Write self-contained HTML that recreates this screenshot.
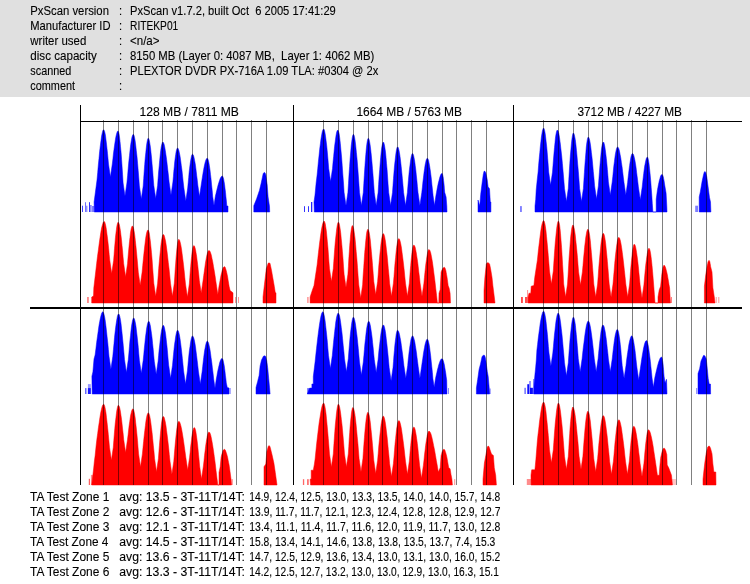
<!DOCTYPE html><html><head><meta charset="utf-8"><style>html,body{margin:0;padding:0;background:#fff;overflow:hidden}svg{display:block}text{font-family:"Liberation Sans",sans-serif;font-size:12px;fill:#000;stroke:#000;stroke-width:0.1}</style></head><body>
<svg width="750" height="584" viewBox="0 0 750 584">
<rect x="0" y="0" width="750" height="97" fill="#e0e0e0"/>
<text transform="translate(30.3,15) scale(0.9447,1)" xml:space="preserve">PxScan version</text>
<text transform="translate(119,15) scale(0.93,1)" xml:space="preserve">:</text>
<text transform="translate(130,15) scale(0.93,1)" xml:space="preserve">PxScan v1.7.2, built Oct  6 2005 17:41:29</text>
<text transform="translate(30.3,30) scale(0.9336,1)" xml:space="preserve">Manufacturer ID</text>
<text transform="translate(119,30) scale(0.93,1)" xml:space="preserve">:</text>
<text transform="translate(130.1,30) scale(0.85,1)" xml:space="preserve">RITEKP01</text>
<text transform="translate(30.3,45) scale(0.9559,1)" xml:space="preserve">writer used</text>
<text transform="translate(119,45) scale(0.93,1)" xml:space="preserve">:</text>
<text transform="translate(130,45) scale(0.9632,1)" xml:space="preserve">&lt;n/a&gt;</text>
<text transform="translate(30.3,60) scale(0.9684,1)" xml:space="preserve">disc capacity</text>
<text transform="translate(119,60) scale(0.93,1)" xml:space="preserve">:</text>
<text transform="translate(130,60) scale(0.9455,1)" xml:space="preserve">8150 MB (Layer 0: 4087 MB,  Layer 1: 4062 MB)</text>
<text transform="translate(30.3,75) scale(0.903,1)" xml:space="preserve">scanned</text>
<text transform="translate(119,75) scale(0.93,1)" xml:space="preserve">:</text>
<text transform="translate(130,75) scale(0.93,1)" xml:space="preserve">PLEXTOR DVDR PX-716A 1.09 TLA: #0304 @ 2x</text>
<text transform="translate(30.3,90) scale(0.9074,1)" xml:space="preserve">comment</text>
<text transform="translate(119,90) scale(0.93,1)" xml:space="preserve">:</text>
<g shape-rendering="geometricPrecision">
<path d="M94.3,212 94.1,202 97,180 97.7,172.5 98.3,165.2 99,158.3 99.6,151.8 100.3,145.8 101,140.5 101.6,136.1 102.3,132.7 102.9,130.5 103.6,129.8 104.1,130.2 104.6,131.5 105.1,133.6 105.6,136.5 106,140 106.5,144 107,148.5 107.5,153.3 108,158.5 108.5,164 110.4,177 112.3,164 112.9,158.9 113.4,154 114,149.4 114.6,145.1 115.2,141.1 115.7,137.7 116.3,134.9 116.9,132.8 117.4,131.4 118,131 118.5,131.7 119,133.7 119.5,136.9 120,141.3 120.5,146.6 121.1,152.7 121.6,159.5 122.1,166.9 122.6,174.8 123.1,183 125,196 126.9,183 127.6,175.7 128.2,168.6 128.8,161.8 129.5,155.5 130.1,149.7 130.7,144.6 131.4,140.3 132,137 132.7,135 133.3,134.3 133.9,135 134.5,137.2 135.1,140.6 135.7,145.1 136.3,150.5 137,156.6 137.6,163.3 138.2,170.5 138.8,178.1 139.4,186 141.3,199 143.2,186 143.7,178.4 144.2,171.2 144.7,164.4 145.2,158.2 145.8,152.5 146.3,147.6 146.8,143.6 147.3,140.7 147.8,138.8 148.3,138.2 148.8,138.8 149.4,140.7 149.9,143.7 150.5,147.7 151,152.6 151.6,158.2 152.1,164.3 152.7,171 153.2,178 153.8,185.4 155.7,198.4 157.6,185.4 158.1,178.5 158.6,172 159.2,165.9 159.7,160.2 160.2,155.1 160.7,150.6 161.2,147 161.8,144.3 162.3,142.6 162.8,142 163.4,142.6 164.1,144.2 164.7,146.9 165.3,150.4 165.9,154.6 166.6,159.4 167.2,164.6 167.8,170.1 168.5,175.9 169.1,182 171,195 172.9,182 173.4,176.5 173.8,171.3 174.3,166.4 174.7,161.9 175.2,158 175.7,154.5 176.1,151.8 176.6,149.7 177,148.4 177.5,148 178.1,148.6 178.8,150.3 179.4,152.9 180.1,156.4 180.7,160.7 181.3,165.4 182,170.6 182.6,176.2 183.2,182 183.9,188 185.8,201 187.7,188 188.2,182.6 188.7,177.4 189.1,172.6 189.6,168.2 190.1,164.2 190.6,160.8 191.1,158 191.5,155.9 192,154.6 192.5,154.2 193,154.6 193.6,155.8 194.1,157.8 194.6,160.4 195.2,163.5 195.7,167.2 196.2,171.2 196.7,175.5 197.3,180.2 197.8,185 199.5,196.5 201.2,185 201.8,180.9 202.4,177 203,173.2 203.6,169.7 204.2,166.6 204.8,163.8 205.4,161.4 206,159.7 206.6,158.6 207.2,158.2 207.8,158.7 208.3,160.2 208.9,162.7 209.4,165.9 210,169.9 210.5,174.4 211.1,179.5 211.6,184.9 212.2,190.6 212.7,196.6 214,205.4 215.3,196.6 216,193.5 216.7,190.6 217.4,187.8 218.1,185.1 218.8,182.7 219.5,180.5 220.2,178.6 220.9,177.2 221.6,176.3 222.3,176 222.8,176.4 223.2,177.5 223.7,179.3 224.1,181.7 224.6,184.7 225,188.3 225.5,192.2 225.9,196.5 226.4,201.1 226.8,206 228,206 228,212Z" fill="#0000ff" stroke="#0000ff" stroke-width="0.5"/><path d="M253.8,212 253.8,205.7 256.6,198.8 259.4,190.5 261.2,183.1 263.1,173.9 263.2,173.6 263.4,173.4 263.5,173.2 263.6,173 263.8,172.9 263.9,172.7 264,172.6 264.1,172.6 264.3,172.5 264.4,172.5 264.5,172.5 264.7,172.6 264.8,172.7 265,172.9 265.1,173.1 265.2,173.3 265.4,173.6 265.5,174 265.7,174.4 265.8,174.8 267.2,185 268.1,197 269.5,206.2 269.7,212Z" fill="#0000ff" stroke="#0000ff" stroke-width="0.5"/><rect x="82" y="205.7" width="1" height="6.3" fill="#0000ff" fill-opacity="0.75"/><rect x="85" y="202.2" width="1" height="9.8" fill="#0000ff" fill-opacity="0.55"/><rect x="86.3" y="205.7" width="1" height="6.3" fill="#0000ff" fill-opacity="0.6"/><rect x="89" y="202.2" width="1" height="9.8" fill="#0000ff" fill-opacity="0.8"/><rect x="90.3" y="205" width="1.2" height="7" fill="#0000ff" fill-opacity="0.65"/><rect x="92" y="206" width="2.1" height="6" fill="#0000ff" fill-opacity="0.5"/>
<path d="M91.7,303 91.7,297 93.5,296 93.8,288 95.9,270 96.7,263.1 97.5,256.3 98.4,249.8 99.2,243.6 100,237.8 100.8,232.5 101.6,228 102.5,224.5 103.3,222.2 104.1,221.4 104.7,221.9 105.2,223.5 105.8,226 106.4,229.4 106.9,233.4 107.5,238.1 108.1,243.2 108.7,248.7 109.2,254.5 109.8,260.5 111.7,273.5 113.6,260.5 114.1,254.3 114.5,248.4 115,242.9 115.4,237.9 115.9,233.4 116.4,229.6 116.8,226.4 117.3,224.1 117.7,222.7 118.2,222.2 118.7,222.8 119.3,224.4 119.8,227 120.4,230.6 120.9,234.8 121.5,239.8 122,245.2 122.6,251 123.1,257.2 123.7,263.7 125.6,276.7 127.5,263.7 128,257.7 128.5,251.9 129,246.6 129.5,241.6 130,237.2 130.4,233.4 130.9,230.2 131.4,227.9 131.9,226.5 132.4,226 133,226.6 133.6,228.5 134.2,231.5 134.8,235.5 135.3,240.3 135.9,245.8 136.5,251.8 137.1,258.3 137.7,265.1 138.3,272.2 140.2,285.2 142.1,272.2 142.7,265.7 143.3,259.5 143.9,253.6 144.5,248 145.1,243 145.6,238.6 146.2,235 146.8,232.2 147.4,230.5 148,229.9 148.6,230.6 149.2,232.8 149.7,236.2 150.3,240.8 150.9,246.4 151.5,252.7 152.1,259.6 152.6,267.1 153.2,275 153.8,283.2 155.7,296.2 157.6,283.2 158.2,275.6 158.7,268.4 159.3,261.6 159.9,255.2 160.5,249.4 161,244.3 161.6,240.2 162.2,237 162.7,235.1 163.3,234.4 164,235.1 164.7,237.3 165.5,240.7 166.2,245.1 166.9,250.3 167.6,256.1 168.3,262.4 169.1,269.1 169.8,276 170.5,283.2 172.4,296.2 174.3,283.2 174.8,276.1 175.2,269.3 175.7,263 176.1,257.2 176.6,252.1 177,247.7 177.5,244.1 177.9,241.5 178.4,239.8 178.8,239.3 179.5,240 180.1,241.9 180.8,244.9 181.5,248.9 182.1,253.6 182.8,258.9 183.5,264.7 184.2,270.9 184.8,277.3 185.5,284 187.4,297 189.3,284 189.8,277.7 190.2,271.8 190.7,266.3 191.1,261.2 191.6,256.7 192,252.9 192.5,249.7 192.9,247.4 193.4,246 193.8,245.5 194.4,246 194.9,247.3 195.5,249.6 196,252.5 196.6,256.1 197.1,260.2 197.7,264.7 198.2,269.6 198.8,274.8 199.3,280.2 201.2,293 203.1,280.2 203.7,275.6 204.3,271.3 204.9,267.1 205.4,263.2 206,259.7 206.6,256.5 207.2,254 207.8,252 208.4,250.8 209,250.4 209.8,251 210.5,252.6 211.3,255.1 212,258.4 212.8,262.2 213.5,266.5 214.3,271.1 215.1,276 215.8,281 216.6,286.2 217.8,294.6 219,286.2 219.6,283.1 220.1,280.2 220.6,277.4 221.1,274.8 221.7,272.5 222.2,270.5 222.7,268.9 223.2,267.6 223.8,266.9 224.3,266.6 224.8,266.9 225.3,267.6 225.7,268.8 226.2,270.4 226.7,272.4 227.2,274.7 227.7,277.3 228.1,280.1 228.6,283.1 229.1,286.3 230.1,290.5 233,292.8 233,303Z" fill="#ff0000" stroke="#ff0000" stroke-width="0.5"/><path d="M263,303 263,297 264.4,284.8 266.3,268.8 268.2,263.2 268.3,263.1 268.4,263.1 268.5,263 268.6,263 268.7,263 268.8,262.9 268.9,262.9 269,262.9 269.1,262.9 269.2,262.9 269.3,262.9 269.4,262.9 269.5,263 269.6,263 269.6,263.1 269.7,263.2 269.8,263.3 269.9,263.4 270,263.5 270.1,263.7 271.5,270.2 272.9,278.2 274.3,286.3 275.3,292.8 276,292.8 276,303Z" fill="#ff0000" stroke="#ff0000" stroke-width="0.5"/><rect x="87" y="297" width="1.9" height="6" fill="#ff0000" fill-opacity="0.45"/><rect x="235" y="297" width="1" height="6" fill="#ff0000" fill-opacity="0.4"/><rect x="238" y="297" width="1" height="6" fill="#ff0000" fill-opacity="0.4"/>
<path d="M314.3,212 314,202 315,195 316.1,183.2 317.1,175 317.8,168.1 318.4,161.4 319.1,155.1 319.7,149.1 320.4,143.6 321,138.8 321.7,134.7 322.3,131.6 323,129.7 323.6,129 324.1,129.5 324.6,131 325.1,133.5 325.6,136.8 326.1,140.8 326.7,145.5 327.2,150.7 327.7,156.3 328.2,162.2 328.7,168.5 330.6,181.5 332.5,168.5 333,162.5 333.6,156.7 334.1,151.3 334.6,146.2 335.2,141.7 335.7,137.8 336.2,134.5 336.7,132.1 337.3,130.6 337.8,130.1 338.4,131 339.1,133.6 339.7,137.7 340.3,143.2 340.9,149.7 341.6,157.1 342.2,165.2 342.8,173.9 343.5,183 344.1,192.4 346,205.4 347.9,192.4 348.5,183.3 349,174.7 349.6,166.5 350.1,158.9 350.7,152 351.2,146 351.8,141.1 352.3,137.4 352.9,135.1 353.4,134.3 354,135.1 354.6,137.5 355.2,141.3 355.8,146.4 356.4,152.5 357.1,159.4 357.7,166.9 358.3,175 358.9,183.5 359.5,192.4 361.4,205.4 363.3,192.4 363.8,183.8 364.3,175.6 364.8,167.9 365.3,160.7 365.8,154.4 366.3,148.8 366.8,144.3 367.3,141 367.8,138.9 368.3,138.2 368.9,139 369.5,141.2 370.1,144.7 370.7,149.4 371.3,155.1 371.9,161.5 372.5,168.6 373.1,176.1 373.7,184.1 374.3,192.4 376.2,205.4 378.1,192.4 378.6,184.4 379.1,176.9 379.7,169.7 380.2,163.1 380.7,157.2 381.2,152 381.7,147.8 382.3,144.6 382.8,142.7 383.3,142 383.8,142.7 384.4,144.7 384.9,147.8 385.5,152.1 386,157.3 386.5,163.3 387.1,169.8 387.6,177 388.1,184.5 388.7,192.4 390.6,205.4 392.5,192.4 393,185.2 393.5,178.3 394,171.9 394.5,165.9 395.1,160.5 395.6,155.9 396.1,152.1 396.6,149.2 397.1,147.5 397.6,146.9 398.2,147.5 398.8,149.4 399.4,152.4 400,156.3 400.6,161.1 401.2,166.5 401.8,172.4 402.4,178.8 403,185.4 403.6,192.4 405.5,205.4 407.4,192.4 407.9,186.2 408.4,180.3 408.9,174.8 409.4,169.7 410,165.1 410.5,161.1 411,157.8 411.5,155.4 412,153.9 412.5,153.4 413,153.9 413.6,155.5 414.1,157.9 414.7,161.3 415.2,165.3 415.8,169.9 416.3,175 416.9,180.5 417.4,186.3 418,192.4 419.9,205.4 421.8,192.4 422.4,187.1 422.9,182 423.5,177.1 424,172.7 424.6,168.6 425.1,165.1 425.7,162.2 426.2,160 426.8,158.7 427.3,158.2 427.9,158.7 428.5,160.2 429,162.7 429.6,165.9 430.2,169.8 430.8,174.3 431.4,179.2 431.9,184.4 432.5,190 433.1,195.8 434.5,205.4 435.9,195.8 436.5,192.4 437.1,189.1 437.7,186 438.3,183.1 439,180.4 439.6,178.1 440.2,176.1 440.8,174.6 441.4,173.7 442,173.4 442.3,173.6 442.5,174.2 442.8,175.3 443.1,176.7 443.4,178.5 443.6,180.6 443.9,183.1 444.2,185.9 444.4,189 444.7,192.3 446.1,197 446.8,206 447,212Z" fill="#0000ff" stroke="#0000ff" stroke-width="0.5"/><path d="M478,212 478,200 479.8,205.7 480.7,194.2 482.1,183.1 483.1,175.7 483.2,174.8 483.4,174.1 483.5,173.4 483.6,172.8 483.8,172.3 483.9,171.9 484,171.5 484.1,171.3 484.3,171.1 484.4,171.1 484.5,171.1 484.7,171.2 484.8,171.3 485,171.4 485.1,171.6 485.2,171.8 485.4,172 485.5,172.3 485.7,172.6 485.8,172.9 487.2,179.4 488.1,186.8 489.5,188.7 490.3,202 490.9,202 490.9,212Z" fill="#0000ff" stroke="#0000ff" stroke-width="0.5"/><rect x="304" y="206.2" width="1" height="5.8" fill="#0000ff" fill-opacity="0.8"/><rect x="308" y="206.2" width="1" height="5.8" fill="#0000ff" fill-opacity="0.8"/><rect x="311" y="202" width="1.3" height="10" fill="#0000ff" fill-opacity="0.85"/>
<path d="M310.1,303 310.1,297 312.3,290.3 314,285.5 317.1,265 317.8,258.5 318.5,252.2 319.2,246.2 319.9,240.6 320.6,235.3 321.3,230.6 322,226.7 322.7,223.7 323.4,221.8 324.1,221.1 324.6,221.7 325.2,223.6 325.7,226.6 326.3,230.6 326.8,235.5 327.3,241.1 327.9,247.3 328.4,254.1 328.9,261.2 329.5,268.6 331.4,281.6 333.3,268.6 333.8,261.2 334.3,254.2 334.8,247.6 335.3,241.6 335.9,236.1 336.4,231.4 336.9,227.5 337.4,224.6 337.9,222.8 338.4,222.2 339,222.9 339.5,225 340.1,228.4 340.7,232.8 341.2,238.2 341.8,244.4 342.4,251.2 343,258.5 343.5,266.2 344.1,274.3 346,287.3 347.9,274.3 348.4,266.4 348.8,258.9 349.3,251.8 349.7,245.4 350.2,239.7 350.6,234.8 351.1,230.8 351.5,227.9 352,226.1 352.4,225.5 353,226.4 353.7,228.8 354.3,232.8 355,238 355.6,244.3 356.2,251.4 356.9,259.1 357.5,267.3 358.1,275.9 358.8,284.9 360.7,297.9 362.6,284.9 363.1,276.1 363.7,267.8 364.2,259.9 364.7,252.6 365.3,246 365.8,240.3 366.3,235.6 366.8,232.1 367.4,229.9 367.9,229.2 368.5,229.9 369.1,232.1 369.7,235.5 370.3,240 370.8,245.4 371.4,251.7 372,258.5 372.6,265.8 373.2,273.6 373.8,281.6 375.7,294.6 377.6,281.6 378.2,274.2 378.7,267.1 379.3,260.3 379.9,254 380.5,248.4 381,243.4 381.6,239.3 382.2,236.2 382.7,234.3 383.3,233.6 383.9,234.3 384.6,236.4 385.2,239.7 385.8,244 386.4,249.2 387.1,255.1 387.7,261.6 388.3,268.5 389,275.7 389.6,283.2 391.5,296.2 393.4,283.2 394,276.2 394.5,269.5 395,263.2 395.6,257.4 396.1,252.1 396.6,247.5 397.2,243.7 397.7,240.9 398.3,239.1 398.8,238.5 399.5,239.2 400.1,241.1 400.8,244.1 401.5,248.1 402.1,252.8 402.8,258.1 403.5,263.9 404.2,270.1 404.8,276.5 405.5,283.2 407.4,296.2 409.3,283.2 409.8,277 410.2,271.1 410.7,265.6 411.1,260.6 411.6,256.1 412,252.3 412.5,249.2 412.9,246.9 413.4,245.5 413.8,245 414.4,245.5 415.1,247.1 415.7,249.7 416.3,253 416.9,257 417.6,261.6 418.2,266.5 418.8,271.9 419.5,277.4 420.1,283.2 422,296.2 423.9,283.2 424.4,277.8 424.9,272.7 425.4,267.9 425.9,263.5 426.5,259.5 427,256.1 427.5,253.2 428,251.1 428.5,249.8 429,249.4 429.8,250.3 430.7,252.8 431.5,256.8 432.4,261.8 433.2,267.6 434,274 434.9,280.8 435.7,288 436.6,295.4 437.4,303 438.8,303 439,293.3 440.2,289.5 441.1,272.1 441.4,271.3 441.7,270.5 442.1,269.8 442.4,269.2 442.7,268.6 443,268.2 443.3,267.8 443.7,267.5 444,267.4 444.3,267.3 444.7,267.5 445.1,268.2 445.5,269.3 445.9,270.7 446.2,272.5 446.6,274.7 447,277.1 447.4,279.8 447.8,282.7 448.2,285.8 449.1,288 450.1,293.3 450.5,303Z" fill="#ff0000" stroke="#ff0000" stroke-width="0.5"/><path d="M484,303 484,290.5 484.9,277.3 486.3,264.1 486.4,263.8 486.6,263.6 486.7,263.4 486.9,263.2 487,263.1 487.1,262.9 487.3,262.8 487.4,262.8 487.6,262.7 487.7,262.7 487.9,262.7 488.1,262.8 488.3,262.8 488.5,262.9 488.6,263.1 488.8,263.2 489,263.4 489.2,263.6 489.4,263.8 489.6,264.1 490.6,268.8 492,277.3 492.9,285.8 494.3,297 495,303Z" fill="#ff0000" stroke="#ff0000" stroke-width="0.5"/><rect x="307.2" y="297" width="1.4" height="6" fill="#ff0000" fill-opacity="0.45"/>
<path d="M535,212 535,206 535.7,199.3 536.2,190 537.2,180 538.1,172 538.6,165.2 539.2,158.6 539.8,152.4 540.3,146.7 540.9,141.5 541.4,137 542,133.2 542.5,130.4 543.1,128.7 543.6,128.1 544.1,128.7 544.6,130.4 545.1,133.1 545.6,136.8 546.1,141.3 546.7,146.5 547.2,152.2 547.7,158.5 548.2,165.1 548.7,172.1 550.6,185.1 552.5,172.1 553,165.4 553.5,159 554,153 554.5,147.5 555,142.6 555.4,138.3 555.9,134.8 556.4,132.2 556.9,130.6 557.4,130.1 558.1,131 558.8,133.5 559.5,137.6 560.2,142.8 560.9,149 561.7,156 562.4,163.5 563.1,171.5 563.8,179.8 564.5,188.4 566.4,201.4 568.3,188.4 568.8,179.6 569.3,171.3 569.8,163.4 570.3,156.1 570.9,149.6 571.4,143.9 571.9,139.3 572.4,135.9 572.9,133.7 573.4,133 574,133.8 574.6,136.1 575.3,139.7 575.9,144.6 576.5,150.4 577.1,157 577.7,164.2 578.4,171.9 579,180 579.6,188.4 581.5,201.4 583.4,188.4 583.9,180.2 584.4,172.4 584.9,165.1 585.4,158.4 585.9,152.3 586.3,147.1 586.8,142.9 587.3,139.7 587.8,137.8 588.3,137.1 588.9,137.8 589.6,139.8 590.2,143.1 590.8,147.3 591.4,152.5 592.1,158.3 592.7,164.6 593.3,171.4 594,178.5 594.6,185.9 596.5,198.9 598.4,185.9 598.9,178.9 599.4,172.2 599.9,166 600.4,160.2 600.9,155 601.3,150.6 601.8,146.9 602.3,144.2 602.8,142.6 603.3,142 603.8,142.5 604.3,144.1 604.8,146.5 605.3,149.9 605.8,154 606.4,158.7 606.9,163.9 607.4,169.5 607.9,175.6 608.4,181.9 610.3,194.9 612.2,181.9 612.8,176.4 613.3,171.2 613.8,166.2 614.4,161.7 614.9,157.5 615.4,153.9 616,151 616.5,148.7 617.1,147.4 617.6,146.9 618.2,147.4 618.9,148.9 619.5,151.3 620.1,154.4 620.8,158.1 621.4,162.4 622.1,167 622.7,171.9 623.3,177.1 624,182.5 625.8,194.9 627.6,182.5 628.1,177.8 628.6,173.4 629.1,169.2 629.6,165.4 630.1,162 630.6,159.1 631,156.7 631.5,154.9 632,153.8 632.5,153.4 633.1,153.9 633.7,155.2 634.3,157.4 634.9,160.3 635.5,163.8 636.1,167.8 636.6,172.2 637.2,176.8 637.8,181.8 638.4,186.9 640.3,199.7 642.2,186.9 642.7,182.2 643.2,177.7 643.7,173.5 644.2,169.6 644.7,166 645.3,163 645.8,160.5 646.3,158.6 646.8,157.5 647.3,157.1 647.9,157.8 648.4,160 649,163.5 649.5,168.2 650.1,173.9 650.7,180.4 651.2,187.6 651.8,195.3 652.3,203.5 652.9,212 656.2,212 656.2,199.3 657.5,189.5 658,187.1 658.4,184.8 658.9,182.6 659.3,180.6 659.8,178.9 660.2,177.4 660.6,176.1 661.1,175.2 661.5,174.7 662,174.5 662.3,174.6 662.5,175 662.8,175.5 663.1,176.3 663.4,177.3 663.6,178.5 663.9,179.9 664.2,181.4 664.4,183.1 664.7,185 666.1,193.3 666.8,206.2 667,212Z" fill="#0000ff" stroke="#0000ff" stroke-width="0.5"/><path d="M699.2,212 699.2,197 700.3,191.9 702.1,181.3 703.5,174.8 703.6,174.2 703.8,173.7 703.9,173.2 704.1,172.8 704.2,172.4 704.3,172.1 704.5,171.9 704.6,171.7 704.8,171.6 704.9,171.6 705.1,171.7 705.3,171.8 705.5,172.1 705.7,172.5 705.8,173 706,173.6 706.2,174.4 706.4,175.2 706.6,176.1 706.8,177.1 708.1,186.8 709.5,197.4 710.5,202 710.9,212Z" fill="#0000ff" stroke="#0000ff" stroke-width="0.5"/><rect x="520" y="206.1" width="1.9" height="5.9" fill="#0000ff" fill-opacity="0.5"/><rect x="695.2" y="205.7" width="2.8" height="6.3" fill="#0000ff" fill-opacity="0.5"/>
<path d="M528.1,303 528.1,297 529,293.2 530.8,293.2 531.2,286.2 533.9,285.4 534.7,277.7 537.4,260 538,254 538.6,248.3 539.3,242.8 539.9,237.7 540.5,233 541.1,228.8 541.7,225.4 542.4,222.8 543,221.2 543.6,220.6 544.2,221.3 544.8,223.3 545.4,226.6 546,231 546.5,236.2 547.1,242.2 547.7,248.8 548.3,255.8 548.9,263.3 549.5,271 551.4,284 553.3,271 553.8,263.1 554.3,255.6 554.8,248.5 555.3,241.9 555.9,236 556.4,231 556.9,226.8 557.4,223.7 557.9,221.8 558.4,221.1 558.9,221.9 559.5,224.4 560,228.3 560.5,233.6 561,240.1 561.6,247.5 562.1,255.8 562.6,264.7 563.2,274.1 563.7,284 565.6,297 567.5,284 568.1,274.8 568.6,265.9 569.1,257.6 569.7,249.9 570.2,242.9 570.7,236.8 571.3,231.8 571.8,228.1 572.4,225.8 572.9,225 573.5,225.6 574,227.5 574.6,230.5 575.2,234.6 575.7,239.4 576.3,245 576.9,251.1 577.5,257.7 578,264.6 578.6,271.9 580.5,284.9 582.4,271.9 583,265.2 583.5,258.9 584.1,252.9 584.6,247.3 585.2,242.2 585.7,237.8 586.3,234.2 586.8,231.5 587.4,229.8 587.9,229.2 588.5,230 589.1,232.2 589.7,235.7 590.3,240.5 590.8,246.2 591.4,252.7 592,259.8 592.6,267.5 593.2,275.6 593.8,284 595.7,297 597.6,284 598.2,276.2 598.7,268.6 599.3,261.5 599.9,254.9 600.5,248.9 601,243.6 601.6,239.3 602.2,236 602.7,234 603.3,233.3 603.9,234 604.5,236.1 605.1,239.4 605.7,243.7 606.2,249 606.8,255 607.4,261.6 608,268.7 608.6,276.2 609.2,284 611.1,297 613,284 613.6,276.8 614.2,269.9 614.7,263.4 615.3,257.3 615.9,251.7 616.5,246.9 617.1,242.8 617.6,239.8 618.2,237.9 618.8,237.3 619.5,238 620.2,240 620.9,243.2 621.6,247.4 622.3,252.4 623,258 623.7,264 624.4,270.4 625.1,277.1 625.8,284 627.7,297 629.6,284 630.1,277.6 630.5,271.5 631,265.8 631.5,260.6 632,255.9 632.4,251.9 632.9,248.6 633.4,246.2 633.8,244.7 634.3,244.2 634.9,244.8 635.5,246.4 636,249 636.6,252.5 637.2,256.8 637.8,261.6 638.4,266.9 638.9,272.6 639.5,278.6 640.1,284.9 642,297.9 643.9,284.9 644.4,279.1 644.9,273.5 645.4,268.3 645.9,263.5 646.5,259.2 647,255.4 647.5,252.4 648,250.1 648.5,248.7 649,248.2 649.6,249 650.2,251.2 650.8,254.8 651.4,259.5 652,265.3 652.6,271.8 653.2,278.9 653.8,286.6 654.4,294.6 655,303 658,303 658,297 659.2,290 660.6,286.3 661.6,276.4 661.8,274.4 662.1,272.6 662.3,271 662.6,269.5 662.8,268.2 663,267.2 663.3,266.4 663.5,265.8 663.8,265.4 664,265.3 664.6,265.6 665.1,266.5 665.7,268 666.2,269.9 666.8,272.3 667.4,275 667.9,278 668.5,281.2 669,284.6 669.6,288.1 670.1,297 670.5,303Z" fill="#ff0000" stroke="#ff0000" stroke-width="0.5"/><path d="M704.4,303 704.4,286.3 705.8,274.5 707.3,265.1 707.5,264.2 707.7,263.5 707.8,262.8 708,262.1 708.2,261.6 708.4,261.2 708.6,260.8 708.7,260.6 708.9,260.4 709.1,260.4 709.2,260.5 709.4,260.7 709.6,261 709.7,261.4 709.9,262 710,262.6 710.1,263.4 710.3,264.3 710.5,265.4 710.6,266.5 712,272.1 712.9,287.7 714.3,297 715,303Z" fill="#ff0000" stroke="#ff0000" stroke-width="0.5"/><rect x="521" y="297" width="1.9" height="6" fill="#ff0000" fill-opacity="0.7"/><rect x="525" y="297" width="2.3" height="6" fill="#ff0000" fill-opacity="0.7"/><rect x="527.2" y="290" width="0.9" height="13" fill="#ff0000" fill-opacity="0.5"/><rect x="671" y="297" width="1" height="6" fill="#ff0000" fill-opacity="0.5"/><rect x="715.7" y="297" width="1" height="6" fill="#ff0000" fill-opacity="0.4"/><rect x="718.3" y="297" width="1" height="6" fill="#ff0000" fill-opacity="0.4"/>
<path d="M92.2,394 91.9,376.2 92.9,371.9 94,359 95.1,355 95.9,348.8 96.6,342.7 97.4,336.9 98.2,331.3 98.9,326.1 99.7,321.5 100.5,317.5 101.3,314.4 102,312.5 102.8,311.8 103.4,312.4 104,314.3 104.7,317.2 105.3,321.1 105.9,325.8 106.5,331.1 107.1,336.8 107.8,343 108.4,349.5 109,356.3 110.9,369.3 112.8,356.3 113.4,349.8 114,343.5 114.5,337.6 115.1,332.1 115.7,327.1 116.3,322.7 116.9,319 117.4,316.3 118,314.6 118.6,314 119.2,314.6 119.8,316.5 120.4,319.4 121,323.4 121.5,328.1 122.1,333.5 122.7,339.4 123.3,345.8 123.9,352.5 124.5,359.5 126.4,372.5 128.3,359.5 128.9,353 129.4,346.8 129.9,340.9 130.5,335.5 131,330.6 131.5,326.3 132.1,322.8 132.6,320.2 133.2,318.6 133.7,318 134.3,318.6 134.8,320.3 135.4,323 136,326.6 136.5,331 137.1,336 137.7,341.5 138.3,347.5 138.8,353.8 139.4,360.3 141.3,373.3 143.2,360.3 143.8,354.2 144.3,348.4 144.9,342.9 145.4,337.8 146,333.2 146.5,329.2 147.1,325.8 147.6,323.4 148.2,321.8 148.7,321.3 149.3,321.8 149.8,323.4 150.4,326 150.9,329.4 151.5,333.5 152.1,338.2 152.6,343.5 153.2,349.1 153.7,355 154.3,361.2 156.2,374.2 158.1,361.2 158.6,355.5 159.1,350.1 159.7,345 160.2,340.3 160.7,336.1 161.2,332.4 161.7,329.4 162.3,327.2 162.8,325.8 163.3,325.3 163.8,325.8 164.4,327.4 164.9,329.9 165.5,333.3 166,337.4 166.5,342.1 167.1,347.3 167.6,353 168.1,359 168.7,365.2 170.6,378.2 172.5,365.2 173,359.7 173.5,354.4 174,349.4 174.5,344.8 175.1,340.7 175.6,337.1 176.1,334.2 176.6,332 177.1,330.7 177.6,330.2 178.2,330.8 178.8,332.4 179.4,335.1 180,338.6 180.6,342.9 181.2,347.7 181.8,353 182.4,358.7 183,364.7 183.6,370.9 185.5,383.9 187.4,370.9 187.9,365.4 188.4,360.1 188.9,355.1 189.4,350.5 190,346.4 190.5,342.8 191,339.9 191.5,337.7 192,336.4 192.5,335.9 193.1,336.4 193.7,337.8 194.3,340.1 194.9,343.1 195.5,346.8 196,351 196.6,355.6 197.2,360.5 197.8,365.7 198.4,371.1 200.3,383.9 202.2,371.1 202.7,366.3 203.2,361.8 203.7,357.5 204.2,353.6 204.7,350.1 205.3,347 205.8,344.5 206.3,342.6 206.8,341.5 207.3,341.1 207.9,341.6 208.6,343.2 209.2,345.8 209.9,349.1 210.5,353.1 211.1,357.7 211.8,362.6 212.4,367.9 213.1,373.4 213.7,379.1 215,388 216.3,379.1 216.9,375.9 217.4,372.8 218,369.9 218.6,367.2 219.2,364.8 219.7,362.6 220.3,360.8 220.9,359.5 221.4,358.7 222,358.4 222.4,358.7 222.9,359.6 223.3,361.1 223.7,363.1 224.2,365.5 224.6,368.4 225,371.6 225.4,375.2 225.9,379 226.3,383 227.3,387.5 229,388 229,394Z" fill="#0000ff" stroke="#0000ff" stroke-width="0.5"/><path d="M256,394 256,387.5 257.7,381.2 259.1,375.5 260.1,365.9 261.5,360.1 263.4,356.3 263.5,356.2 263.7,356.1 263.8,356 264,356 264.1,355.9 264.3,355.9 264.4,355.8 264.6,355.8 264.8,355.8 264.9,355.8 265.1,355.9 265.3,356 265.5,356.3 265.7,356.7 265.9,357.2 266,357.8 266.2,358.5 266.4,359.3 266.6,360.1 266.8,361.1 267.7,367.8 268.7,378.4 269.6,387.9 270.1,394Z" fill="#0000ff" stroke="#0000ff" stroke-width="0.5"/><rect x="85" y="388.1" width="1.5" height="5.9" fill="#0000ff" fill-opacity="0.6"/><rect x="87.9" y="388.1" width="2.9" height="5.9" fill="#0000ff" fill-opacity="0.85"/><rect x="87.9" y="384.1" width="2.9" height="9.9" fill="#0000ff" fill-opacity="0.4"/><rect x="229.4" y="388" width="1.4" height="6" fill="#0000ff" fill-opacity="0.4"/>
<path d="M91.7,485 92.9,475 93.7,468 94.4,461 95.1,455.8 96.2,445 96.9,439.1 97.7,433.3 98.4,427.7 99.2,422.5 99.9,417.6 100.6,413.2 101.4,409.5 102.1,406.7 102.9,404.8 103.6,404.2 104.2,404.8 104.8,406.5 105.4,409.4 106,413.1 106.5,417.6 107.1,422.7 107.7,428.3 108.3,434.3 108.9,440.7 109.5,447.3 111.4,460.3 113.3,447.3 113.8,440.6 114.3,434.3 114.8,428.3 115.3,422.8 115.9,417.9 116.4,413.6 116.9,410.1 117.4,407.5 117.9,405.8 118.4,405.3 118.9,405.8 119.5,407.1 120,409.2 120.5,412.1 121,415.6 121.6,419.7 122.1,424.2 122.6,429 123.2,434.1 123.7,439.5 125.6,452.5 127.5,439.5 128.1,434.7 128.6,430.1 129.1,425.8 129.7,421.7 130.2,418.1 130.7,415 131.3,412.4 131.8,410.4 132.4,409.2 132.9,408.8 133.5,409.4 134,411.2 134.6,414.1 135.2,418 135.7,422.7 136.3,428 136.9,433.9 137.5,440.2 138,446.9 138.6,453.9 140.5,466.9 142.4,453.9 143,447.6 143.6,441.5 144.2,435.8 144.8,430.4 145.4,425.5 145.9,421.3 146.5,417.7 147.1,415 147.7,413.4 148.3,412.8 148.9,413.5 149.6,415.4 150.2,418.4 150.8,422.4 151.4,427.3 152.1,432.7 152.7,438.7 153.3,445.1 154,451.8 154.6,458.7 156.5,471.7 158.4,458.7 158.9,451.9 159.4,445.5 159.9,439.5 160.4,433.9 160.9,429 161.3,424.7 161.8,421.2 162.3,418.6 162.8,416.9 163.3,416.4 164,417.1 164.6,419 165.3,422 166,426 166.6,430.7 167.3,436.1 168,441.9 168.7,448.1 169.3,454.5 170,461.2 171.9,474.2 173.8,461.2 174.3,454.8 174.8,448.8 175.3,443.1 175.8,437.9 176.3,433.2 176.8,429.1 177.3,425.8 177.8,423.3 178.3,421.8 178.8,421.3 179.5,421.8 180.2,423.4 180.9,425.9 181.6,429.1 182.3,433 183,437.3 183.7,441.9 184.4,446.9 185.1,452 185.8,457.3 187.7,470.1 189.6,457.3 190.1,452.5 190.5,448 191,443.7 191.5,439.8 191.9,436.3 192.4,433.3 192.9,430.8 193.4,429 193.8,427.9 194.3,427.5 194.8,428 195.4,429.5 195.9,431.9 196.4,435.2 196.9,439.1 197.5,443.7 198,448.7 198.5,454.2 199.1,459.9 199.6,466 201.5,479 203.4,466 204,460.7 204.5,455.6 205.1,450.8 205.6,446.4 206.2,442.3 206.8,438.8 207.3,435.9 207.9,433.7 208.4,432.4 209,431.9 209.9,432.8 210.8,435.4 211.6,439.3 212.5,444.3 213.4,450.1 214.3,456.5 215.2,463.2 216,470.3 216.9,477.6 217.8,485 219,485 219,472.5 220.2,466.8 221.1,457.4 221.4,456 221.7,454.7 222.1,453.5 222.4,452.5 222.7,451.5 223,450.7 223.3,450.1 223.7,449.7 224,449.4 224.3,449.3 224.8,449.5 225.3,450.1 225.7,451.1 226.2,452.4 226.7,453.9 227.2,455.8 227.7,457.8 228.1,460.1 228.6,462.5 229.1,465 230.1,472 231,479 231.5,485Z" fill="#ff0000" stroke="#ff0000" stroke-width="0.5"/><path d="M264,485 264,466.8 265.8,464 266.8,451.8 268.2,446.6 268.3,446.4 268.4,446.3 268.5,446.1 268.6,446 268.6,445.9 268.7,445.8 268.8,445.8 268.9,445.7 269,445.7 269.1,445.7 269.2,445.7 269.4,445.8 269.6,446 269.7,446.2 269.9,446.5 270,446.9 270.2,447.3 270.3,447.8 270.5,448.3 270.6,448.9 272,454.6 273.9,463.1 275.3,472.5 276.2,479.1 277,485Z" fill="#ff0000" stroke="#ff0000" stroke-width="0.5"/><rect x="88.8" y="478.8" width="1.1" height="6.2" fill="#ff0000" fill-opacity="0.7"/><rect x="90.9" y="474.9" width="2" height="10.1" fill="#ff0000" fill-opacity="0.45"/><rect x="231.5" y="479.1" width="1.4" height="5.9" fill="#ff0000" fill-opacity="0.4"/>
<path d="M307.3,394 309.7,388.1 311.9,388.1 311.9,384 313.3,384 313.3,376.6 315.1,361.8 315.8,355 316.5,348.6 317.2,342.4 317.9,336.5 318.6,330.9 319.3,325.8 320,321.2 320.7,317.3 321.4,314.3 322.1,312.4 322.8,311.8 323.4,312.4 323.9,314.1 324.5,317 325.1,320.7 325.6,325.2 326.2,330.4 326.8,336.1 327.4,342.3 327.9,348.7 328.5,355.5 330.4,368.5 332.3,355.5 332.9,349 333.5,342.7 334.1,336.8 334.7,331.3 335.3,326.2 335.8,321.8 336.4,318.2 337,315.4 337.6,313.7 338.2,313.1 338.8,313.7 339.5,315.6 340.1,318.7 340.7,322.7 341.3,327.5 342,332.9 342.6,338.8 343.2,345.2 343.9,351.8 344.5,358.7 346.4,371.7 348.3,358.7 348.8,352.1 349.3,345.9 349.8,340 350.3,334.5 350.9,329.6 351.4,325.4 351.9,321.9 352.4,319.3 352.9,317.7 353.4,317.2 354,317.8 354.6,319.7 355.2,322.6 355.8,326.5 356.4,331.2 357.1,336.5 357.7,342.4 358.3,348.6 358.9,355.2 359.5,362 361.4,375 363.3,362 363.9,355.6 364.4,349.5 364.9,343.8 365.5,338.5 366,333.7 366.5,329.5 367.1,326 367.6,323.4 368.2,321.8 368.7,321.3 369.3,321.8 369.8,323.3 370.4,325.8 370.9,329 371.5,333 372.1,337.5 372.6,342.5 373.2,347.9 373.7,353.6 374.3,359.5 376.2,372.5 378.1,359.5 378.6,354 379.1,348.8 379.7,343.9 380.2,339.4 380.7,335.3 381.2,331.8 381.7,328.9 382.3,326.7 382.8,325.4 383.3,324.9 383.9,325.5 384.5,327.2 385.1,330 385.7,333.7 386.2,338.2 386.8,343.2 387.4,348.8 388,354.8 388.6,361.1 389.2,367.7 391.1,380.7 393,367.7 393.5,361.6 393.9,355.9 394.4,350.5 394.8,345.6 395.3,341.2 395.8,337.4 396.2,334.3 396.7,332.1 397.1,330.7 397.6,330.2 398.2,330.7 398.9,332.2 399.5,334.5 400.1,337.6 400.8,341.3 401.4,345.5 402,350.1 402.7,355 403.3,360.2 403.9,365.5 405.8,378.2 407.7,365.5 408.1,360.8 408.6,356.3 409.1,352 409.6,348.1 410.1,344.7 410.6,341.7 411,339.2 411.5,337.4 412,336.3 412.5,335.9 413.1,336.3 413.6,337.5 414.2,339.5 414.8,342.1 415.3,345.3 415.9,348.9 416.5,352.9 417,357.2 417.6,361.8 418.2,366.5 419.9,378.2 421.6,366.5 422.2,362.3 422.8,358.2 423.3,354.4 423.9,350.8 424.5,347.6 425,344.8 425.6,342.4 426.2,340.7 426.7,339.6 427.3,339.2 427.9,339.7 428.4,341.3 429,343.8 429.6,347.2 430.1,351.3 430.7,356 431.2,361.1 431.8,366.7 432.4,372.5 432.9,378.6 434.2,387.2 435.5,378.6 436.1,375.7 436.8,372.8 437.4,370 438.1,367.4 438.7,365 439.4,362.9 440,361.2 440.7,359.8 441.3,359 442,358.7 442.5,359 442.9,359.8 443.4,361.1 443.9,362.9 444.4,365.1 444.8,367.6 445.3,370.4 445.8,373.5 446.2,376.8 446.7,380.3 447,394Z" fill="#0000ff" stroke="#0000ff" stroke-width="0.5"/><path d="M476.4,394 476.4,387.9 477.7,379.3 479.1,369.2 480.5,364 482,356.8 482.2,356.5 482.4,356.2 482.6,356 482.8,355.7 483.1,355.5 483.3,355.4 483.5,355.3 483.7,355.2 483.9,355.1 484.1,355.1 484.3,355.2 484.4,355.3 484.6,355.6 484.8,355.9 485,356.4 485.1,356.9 485.3,357.6 485.5,358.3 485.6,359.2 485.8,360.1 487.3,371.6 488.2,376.4 489.2,387.9 489.6,394Z" fill="#0000ff" stroke="#0000ff" stroke-width="0.5"/><rect x="307.2" y="388.1" width="2.5" height="5.9" fill="#0000ff" fill-opacity="0.6"/><rect x="448" y="388" width="0.9" height="6" fill="#0000ff" fill-opacity="0.5"/><rect x="489.6" y="388.5" width="1.2" height="5.5" fill="#0000ff" fill-opacity="0.4"/>
<path d="M310.6,485 310.1,479.2 311.2,479 311.2,470.2 313.3,470.2 314.4,464 315.1,459 316.5,445 317.2,438.8 317.9,432.9 318.6,427.1 319.3,421.7 320.1,416.7 320.8,412.2 321.5,408.5 322.2,405.6 322.9,403.7 323.6,403.1 324.2,403.8 324.8,405.9 325.4,409.2 326,413.6 326.5,418.8 327.1,424.9 327.7,431.5 328.3,438.6 328.9,446.1 329.5,453.9 331.4,466.9 333.3,453.9 333.8,446 334.3,438.5 334.8,431.5 335.3,424.9 335.9,419.1 336.4,414 336.9,409.9 337.4,406.8 337.9,404.8 338.4,404.2 339,404.9 339.6,406.9 340.2,410.2 340.8,414.5 341.4,419.7 342.1,425.6 342.7,432.1 343.3,439 343.9,446.3 344.5,453.9 346.4,466.9 348.3,453.9 348.8,446.4 349.2,439.3 349.7,432.6 350.1,426.5 350.6,421.1 351.1,416.4 351.5,412.6 352,409.8 352.4,408.1 352.9,407.5 353.5,408.2 354.1,410.3 354.8,413.7 355.4,418.2 356,423.6 356.6,429.7 357.2,436.3 357.9,443.4 358.5,450.9 359.1,458.7 361,471.7 362.9,458.7 363.4,451.3 363.9,444.3 364.4,437.7 364.9,431.6 365.4,426.1 365.9,421.4 366.4,417.5 366.9,414.7 367.4,412.9 367.9,412.3 368.5,413 369.1,414.9 369.7,418 370.3,422.2 370.8,427.2 371.4,432.9 372,439.2 372.6,445.9 373.2,453 373.8,460.4 375.7,473.4 377.6,460.4 378.2,453.5 378.7,447 379.3,440.8 379.9,435 380.5,429.7 381,425.1 381.6,421.3 382.2,418.5 382.7,416.7 383.3,416.1 383.9,416.8 384.6,418.8 385.2,421.9 385.8,426.1 386.4,431.1 387.1,436.7 387.7,442.9 388.3,449.5 389,456.4 389.6,463.6 391.5,476.6 393.4,463.6 394,456.9 394.5,450.4 395,444.3 395.6,438.7 396.1,433.6 396.6,429.1 397.2,425.5 397.7,422.8 398.3,421.1 398.8,420.5 399.5,421.1 400.1,422.8 400.8,425.6 401.5,429.2 402.1,433.5 402.8,438.4 403.5,443.7 404.2,449.3 404.8,455.1 405.5,461.2 407.4,474.2 409.3,461.2 409.8,455.6 410.2,450.4 410.7,445.5 411.1,441 411.6,437 412,433.5 412.5,430.7 412.9,428.7 413.4,427.4 413.8,427 414.4,427.5 415,429.1 415.5,431.5 416.1,434.8 416.7,438.8 417.3,443.3 417.9,448.3 418.4,453.7 419,459.3 419.6,465.2 421.5,478.2 423.4,465.2 424,459.9 424.5,454.8 425.1,450 425.6,445.6 426.2,441.5 426.8,438 427.3,435.1 427.9,432.9 428.4,431.6 429,431.1 429.9,431.8 430.9,433.8 431.8,437 432.7,440.9 433.6,445.4 434.6,450.2 435.5,455.4 436.4,460.8 437.4,466.3 438.3,472 440.2,467.8 441.1,455.5 441.4,454.4 441.7,453.4 441.9,452.5 442.2,451.7 442.5,451 442.8,450.4 443.1,449.9 443.3,449.6 443.6,449.4 443.9,449.3 444.4,449.5 444.9,450.2 445.3,451.4 445.8,452.9 446.3,454.8 446.8,456.9 447.3,459.4 447.7,462 448.2,464.8 448.7,467.8 450.1,468.7 451,474.4 451.9,479.1 452.4,485Z" fill="#ff0000" stroke="#ff0000" stroke-width="0.5"/><path d="M483,485 483,479.1 484.4,463.1 485.8,455.5 487.3,447.1 487.4,446.9 487.5,446.7 487.6,446.6 487.7,446.5 487.8,446.4 487.8,446.3 487.9,446.2 488,446.1 488.1,446.1 488.2,446.1 488.4,446.1 488.6,446.3 488.8,446.5 489,446.7 489.1,447.1 489.3,447.5 489.5,448 489.7,448.6 489.9,449.2 490.1,449.9 491.5,454.1 493.4,455.5 494.3,467.8 495.7,475.3 496.4,485Z" fill="#ff0000" stroke="#ff0000" stroke-width="0.5"/><rect x="302.9" y="479.2" width="1.3" height="5.8" fill="#ff0000" fill-opacity="0.6"/><rect x="307" y="479.2" width="1.8" height="5.8" fill="#ff0000" fill-opacity="0.55"/><rect x="454.3" y="479.1" width="0.9" height="5.9" fill="#ff0000" fill-opacity="0.5"/>
<path d="M533.8,394 534.1,383.8 534.9,375 535.7,367 536.3,360 536.9,350 537.6,344.2 538.2,338.6 538.9,333.3 539.6,328.2 540.2,323.6 540.9,319.5 541.6,316.1 542.3,313.4 542.9,311.8 543.6,311.2 544.1,311.8 544.7,313.4 545.2,316 545.8,319.6 546.3,323.9 546.8,328.8 547.4,334.3 547.9,340.2 548.4,346.5 549,353 550.9,366 552.8,353 553.4,346.8 553.9,340.8 554.4,335.1 555,329.9 555.5,325.2 556,321.1 556.6,317.7 557.1,315.2 557.7,313.6 558.2,313.1 558.8,313.8 559.5,315.9 560.1,319.2 560.7,323.5 561.3,328.8 562,334.7 562.6,341.1 563.2,348 563.9,355.3 564.5,362.8 566.4,375.8 568.3,362.8 568.8,355.6 569.3,348.7 569.8,342.2 570.3,336.2 570.9,330.9 571.4,326.2 571.9,322.4 572.4,319.6 572.9,317.8 573.4,317.2 573.9,317.7 574.4,319.3 574.9,321.9 575.4,325.3 575.8,329.5 576.3,334.4 576.8,339.8 577.3,345.8 577.8,352.1 578.3,358.7 580.2,371.7 582.1,358.7 582.7,353 583.3,347.5 584,342.2 584.6,337.3 585.2,332.8 585.8,328.9 586.4,325.6 587.1,323.1 587.7,321.5 588.3,321 588.9,321.5 589.5,323.1 590.1,325.5 590.7,328.8 591.3,332.7 591.9,337.2 592.5,342.1 593.1,347.4 593.7,352.9 594.3,358.7 596.2,371.7 598.1,358.7 598.6,353.3 599.1,348.2 599.6,343.3 600.1,338.9 600.6,334.9 601,331.5 601.5,328.7 602,326.6 602.5,325.3 603,324.9 603.5,325.4 604.1,326.7 604.6,328.9 605.2,331.8 605.7,335.3 606.3,339.3 606.8,343.8 607.3,348.6 607.9,353.7 608.4,359 610.3,371.7 612.2,359 612.7,354.3 613.2,349.9 613.7,345.7 614.2,341.8 614.7,338.3 615.2,335.3 615.8,332.8 616.3,330.9 616.8,329.8 617.3,329.4 617.8,329.9 618.3,331.2 618.8,333.5 619.3,336.5 619.8,340.1 620.3,344.4 620.8,349.1 621.2,354.3 621.7,359.7 622.2,365.5 624.1,378.2 626,365.5 626.5,360.9 627.1,356.6 627.7,352.4 628.3,348.5 628.8,345 629.4,341.9 630,339.4 630.6,337.5 631.1,336.3 631.7,335.9 632.2,336.3 632.8,337.6 633.3,339.6 633.8,342.3 634.3,345.6 634.9,349.4 635.4,353.6 635.9,358.2 636.4,363 637,368.1 638.7,379.9 640.4,368.1 641,363.9 641.6,359.8 642.2,355.9 642.8,352.4 643.4,349.1 644,346.2 644.6,343.8 645.2,342 645.8,340.9 646.4,340.5 647,341 647.5,342.5 648.1,344.9 648.7,348.2 649.2,352.1 649.8,356.5 650.4,361.5 650.9,366.7 651.5,372.3 652.1,378.2 653.4,387.2 654.7,378.2 655.4,375 656.1,372 656.8,369.1 657.4,366.4 658.1,363.9 658.8,361.6 659.5,359.8 660.1,358.3 660.8,357.4 661.5,357.1 661.8,357.3 662,357.9 662.3,359 662.5,360.4 662.8,362.3 663.1,364.4 663.3,367 663.6,369.8 663.8,373 664.1,376.4 665.1,383 666.5,379.3 667,394Z" fill="#0000ff" stroke="#0000ff" stroke-width="0.5"/><path d="M698,394 698,373.6 699.6,368.8 701,361.1 702.9,356.8 703,356.5 703.1,356.3 703.2,356 703.3,355.8 703.4,355.7 703.5,355.5 703.6,355.4 703.7,355.4 703.8,355.3 703.9,355.3 704.1,355.3 704.4,355.5 704.6,355.7 704.9,356 705.1,356.3 705.3,356.8 705.6,357.3 705.8,357.9 706.1,358.5 706.3,359.2 707.3,368.8 708.2,378.4 709.2,384.1 710.5,384.1 710.6,394Z" fill="#0000ff" stroke="#0000ff" stroke-width="0.5"/><rect x="524.3" y="387.8" width="1.7" height="6.2" fill="#0000ff" fill-opacity="0.5"/><rect x="527.3" y="384.2" width="1.8" height="9.8" fill="#0000ff" fill-opacity="0.95"/><rect x="529.1" y="381" width="1.8" height="13" fill="#0000ff" fill-opacity="0.45"/><rect x="530" y="387.8" width="2.9" height="6.2" fill="#0000ff" fill-opacity="0.95"/><rect x="533" y="379" width="1.1" height="15" fill="#0000ff" fill-opacity="0.45"/><rect x="696.2" y="388" width="1" height="6" fill="#0000ff" fill-opacity="0.5"/>
<path d="M531.1,485 531,475 531.7,469.8 534.9,469.8 535.3,465.7 535.9,459.3 537.3,441.6 537.9,435.6 538.6,429.9 539.2,424.4 539.8,419.3 540.5,414.6 541.1,410.4 541.7,406.9 542.3,404.3 543,402.7 543.6,402.1 544.2,402.8 544.8,404.7 545.4,407.8 546,411.9 546.5,416.9 547.1,422.5 547.7,428.8 548.3,435.4 548.9,442.5 549.5,449.8 551.4,462.8 553.3,449.8 553.8,442.4 554.3,435.3 554.8,428.7 555.3,422.6 555.9,417.1 556.4,412.3 556.9,408.4 557.4,405.5 557.9,403.7 558.4,403.1 559,403.8 559.6,406 560.2,409.5 560.8,414.2 561.4,419.7 562.1,426.1 562.7,433 563.3,440.4 563.9,448.2 564.5,456.3 566.4,469.3 568.3,456.3 568.8,448.3 569.2,440.8 569.7,433.7 570.1,427.2 570.6,421.4 571.1,416.5 571.5,412.4 572,409.5 572.4,407.6 572.9,407 573.5,407.7 574.1,409.7 574.8,413 575.4,417.3 576,422.5 576.6,428.3 577.2,434.8 577.9,441.6 578.5,448.8 579.1,456.3 581,469.3 582.9,456.3 583.4,449.1 583.9,442.3 584.4,435.9 584.9,430 585.4,424.6 585.9,420.1 586.4,416.3 586.9,413.5 587.4,411.8 587.9,411.2 588.5,411.9 589.1,413.8 589.7,416.9 590.3,421 590.8,425.9 591.4,431.6 592,437.8 592.6,444.4 593.2,451.4 593.8,458.7 595.7,471.7 597.6,458.7 598.2,452 598.7,445.6 599.3,439.6 599.9,434 600.5,428.8 601,424.4 601.6,420.7 602.2,417.9 602.7,416.2 603.3,415.6 603.9,416.2 604.6,418.1 605.2,421.2 605.8,425.2 606.4,430 607.1,435.4 607.7,441.3 608.3,447.7 609,454.3 609.6,461.2 611.5,474.2 613.4,461.2 614,454.7 614.5,448.5 615,442.6 615.6,437.2 616.1,432.3 616.6,428 617.2,424.5 617.7,421.9 618.3,420.3 618.8,419.7 619.5,420.3 620.1,422.1 620.8,424.9 621.5,428.6 622.1,433 622.8,437.9 623.5,443.3 624.2,449 624.8,455 625.5,461.2 627.4,474.2 629.3,461.2 629.8,455.5 630.2,450.1 630.7,445.1 631.1,440.5 631.6,436.4 632,432.9 632.5,430 632.9,427.9 633.4,426.6 633.8,426.2 634.4,426.7 635.1,428.3 635.7,430.8 636.3,434.1 636.9,438 637.6,442.4 638.2,447.3 638.8,452.5 639.5,457.9 640.1,463.6 642,476.6 643.9,463.6 644.4,458.1 644.8,452.9 645.3,448.1 645.7,443.7 646.2,439.7 646.7,436.3 647.1,433.5 647.6,431.5 648,430.2 648.5,429.8 649.4,430.6 650.3,432.8 651.2,436.2 652.1,440.5 653,445.5 653.8,450.9 654.7,456.7 655.6,462.7 656.5,468.9 657.4,475.3 659.2,475.3 659.7,467.8 660.6,458.4 660.9,456.6 661.3,455 661.6,453.5 662,452.1 662.3,451 662.6,450 663,449.2 663.3,448.6 663.7,448.2 664,448.1 664.3,448.2 664.6,448.4 664.8,448.7 665.1,449.2 665.4,449.9 665.7,450.6 666,451.4 666.2,452.4 666.5,453.5 666.8,454.6 667.2,465 668.7,467.8 670.1,471.5 671.5,475.3 672.4,485Z" fill="#ff0000" stroke="#ff0000" stroke-width="0.5"/><path d="M703,485 703,479.1 704,469.7 704.9,462.1 706.3,452.7 707.7,447.1 707.8,446.9 708,446.7 708.1,446.6 708.3,446.5 708.4,446.4 708.5,446.3 708.7,446.2 708.8,446.1 709,446.1 709.1,446.1 709.2,446.1 709.4,446.2 709.6,446.3 709.7,446.5 709.9,446.7 710,447 710.1,447.3 710.3,447.7 710.5,448.1 710.6,448.5 712,453.7 712.9,464 713.9,472 715.8,472 716,485Z" fill="#ff0000" stroke="#ff0000" stroke-width="0.5"/><rect x="526.8" y="479" width="4.1" height="6" fill="#ff0000" fill-opacity="0.45"/><rect x="672.5" y="479" width="1" height="6" fill="#ff0000" fill-opacity="0.45"/><rect x="674.5" y="479" width="1" height="6" fill="#ff0000" fill-opacity="0.45"/>
</g>
<g shape-rendering="crispEdges" style="mix-blend-mode:multiply">
<rect x="103" y="120" width="1" height="365" fill="#808080"/>
<rect x="118" y="120" width="1" height="365" fill="#808080"/>
<rect x="133" y="120" width="1" height="365" fill="#808080"/>
<rect x="148" y="120" width="1" height="365" fill="#808080"/>
<rect x="162" y="120" width="1" height="365" fill="#808080"/>
<rect x="177" y="120" width="1" height="365" fill="#808080"/>
<rect x="192" y="120" width="1" height="365" fill="#808080"/>
<rect x="207" y="120" width="1" height="365" fill="#808080"/>
<rect x="222" y="120" width="1" height="365" fill="#808080"/>
<rect x="236" y="120" width="1" height="365" fill="#808080"/>
<rect x="251" y="120" width="1" height="365" fill="#808080"/>
<rect x="266" y="120" width="1" height="365" fill="#808080"/>
<rect x="323" y="120" width="1" height="365" fill="#808080"/>
<rect x="338" y="120" width="1" height="365" fill="#808080"/>
<rect x="353" y="120" width="1" height="365" fill="#808080"/>
<rect x="368" y="120" width="1" height="365" fill="#808080"/>
<rect x="382" y="120" width="1" height="365" fill="#808080"/>
<rect x="397" y="120" width="1" height="365" fill="#808080"/>
<rect x="412" y="120" width="1" height="365" fill="#808080"/>
<rect x="427" y="120" width="1" height="365" fill="#808080"/>
<rect x="442" y="120" width="1" height="365" fill="#808080"/>
<rect x="456" y="120" width="1" height="365" fill="#808080"/>
<rect x="471" y="120" width="1" height="365" fill="#808080"/>
<rect x="486" y="120" width="1" height="365" fill="#808080"/>
<rect x="543" y="120" width="1" height="365" fill="#808080"/>
<rect x="558" y="120" width="1" height="365" fill="#808080"/>
<rect x="573" y="120" width="1" height="365" fill="#808080"/>
<rect x="588" y="120" width="1" height="365" fill="#808080"/>
<rect x="602" y="120" width="1" height="365" fill="#808080"/>
<rect x="617" y="120" width="1" height="365" fill="#808080"/>
<rect x="632" y="120" width="1" height="365" fill="#808080"/>
<rect x="647" y="120" width="1" height="365" fill="#808080"/>
<rect x="662" y="120" width="1" height="365" fill="#808080"/>
<rect x="676" y="120" width="1" height="365" fill="#808080"/>
<rect x="691" y="120" width="1" height="365" fill="#808080"/>
<rect x="706" y="120" width="1" height="365" fill="#808080"/>
</g>
<g shape-rendering="crispEdges">
<rect x="80" y="105" width="1" height="380" fill="#000"/>
<rect x="293" y="105" width="1" height="380" fill="#000"/>
<rect x="513" y="105" width="1" height="380" fill="#000"/>
<rect x="80" y="121" width="662" height="1" fill="#000"/>
<rect x="30" y="307" width="712" height="2" fill="#000"/>
</g>
<text transform="translate(139.5,116) scale(1.0106,1)" xml:space="preserve">128 MB / 7811 MB</text>
<text transform="translate(356.4,116) scale(0.9975,1)" xml:space="preserve">1664 MB / 5763 MB</text>
<text transform="translate(577.4,116) scale(0.9879,1)" xml:space="preserve">3712 MB / 4227 MB</text>
<text transform="translate(30,501) scale(0.9978,1)" xml:space="preserve">TA Test Zone 1</text>
<text transform="translate(119.2,501) scale(1.0222,1)" xml:space="preserve">avg: 13.5 - 3T-11T/14T:</text>
<text transform="translate(249.3,501) scale(0.8555,1)" xml:space="preserve">14.9, 12.4, 12.5, 13.0, 13.3, 13.5, 14.0, 14.0, 15.7, 14.8</text>
<text transform="translate(30,516) scale(0.9978,1)" xml:space="preserve">TA Test Zone 2</text>
<text transform="translate(119.2,516) scale(1.0222,1)" xml:space="preserve">avg: 12.6 - 3T-11T/14T:</text>
<text transform="translate(249.3,516) scale(0.8618,1)" xml:space="preserve">13.9, 11.7, 11.7, 12.1, 12.3, 12.4, 12.8, 12.8, 12.9, 12.7</text>
<text transform="translate(30,531) scale(0.9978,1)" xml:space="preserve">TA Test Zone 3</text>
<text transform="translate(119.2,531) scale(1.0222,1)" xml:space="preserve">avg: 12.1 - 3T-11T/14T:</text>
<text transform="translate(249.3,531) scale(0.8715,1)" xml:space="preserve">13.4, 11.1, 11.4, 11.7, 11.6, 12.0, 11.9, 11.7, 13.0, 12.8</text>
<text transform="translate(30,546) scale(0.985,1)" xml:space="preserve">TA Test Zone 4</text>
<text transform="translate(119.2,546) scale(1.0222,1)" xml:space="preserve">avg: 14.5 - 3T-11T/14T:</text>
<text transform="translate(249.3,546) scale(0.858,1)" xml:space="preserve">15.8, 13.4, 14.1, 14.6, 13.8, 13.8, 13.5, 13.7, 7.4, 15.3</text>
<text transform="translate(30,561) scale(0.9978,1)" xml:space="preserve">TA Test Zone 5</text>
<text transform="translate(119.2,561) scale(1.0222,1)" xml:space="preserve">avg: 13.6 - 3T-11T/14T:</text>
<text transform="translate(249.3,561) scale(0.8555,1)" xml:space="preserve">14.7, 12.5, 12.9, 13.6, 13.4, 13.0, 13.1, 13.0, 16.0, 15.2</text>
<text transform="translate(30,576) scale(0.9978,1)" xml:space="preserve">TA Test Zone 6</text>
<text transform="translate(119.2,576) scale(1.0222,1)" xml:space="preserve">avg: 13.3 - 3T-11T/14T:</text>
<text transform="translate(249.3,576) scale(0.8514,1)" xml:space="preserve">14.2, 12.5, 12.7, 13.2, 13.0, 13.0, 12.9, 13.0, 16.3, 15.1</text>
</svg></body></html>
